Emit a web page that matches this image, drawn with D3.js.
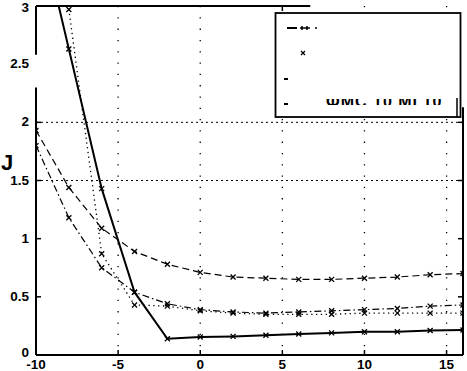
<!DOCTYPE html>
<html>
<head>
    <meta charset="utf-8">
    <title>J curves</title>
    <script src="https://d3js.org/d3.v7.min.js"></script>
    <style>
        html, body {
            margin: 0;
            background: #fff;
            overflow: hidden;
        }
        text {
            font-family: "Liberation Sans", Arial, sans-serif;
        }
    </style>
</head>
<body>
    <svg id="svg"></svg>
    <script>
        const xs = [-10, -8, -6, -4, -2, 0, 2, 4, 6, 8, 10, 12, 14, 16];
        const dashedVals = [1.93, 1.44, 1.09, 0.89, 0.78, 0.71, 0.67, 0.66, 0.65, 0.65, 0.66, 0.67, 0.69, 0.70];
        const dashDotVals = [1.80, 1.18, 0.75, 0.54, 0.44, 0.39, 0.37, 0.36, 0.37, 0.38, 0.39, 0.40, 0.42, 0.43];
        const dottedVals = [5.1, 2.97, 0.87, 0.43, 0.42, 0.38, 0.36, 0.35, 0.35, 0.35, 0.36, 0.36, 0.36, 0.36];
        const solidVals = [3.83, 2.63, 1.43, 0.54, 0.14, 0.155, 0.16, 0.17, 0.18, 0.19, 0.20, 0.20, 0.21, 0.215];

        const xTicks = [-10, -5, 0, 5, 10, 15];
        const yTicks = [0, 0.5, 1, 1.5, 2, 2.5, 3];
        const yTickLabels = ["0", "0.5", "1", "1.5", "2", "2.5", "3"];
        const gridX = [-5, 0, 5, 10, 15];
        const gridY = [1.5, 2];
        const legendLabels = ["", "", "", "ФМС 10 МГ10"];

        const width = 467, height = 371;
        const margins = { top: 6, left: 36, right: 4, bottom: 16 };

        const svg = d3.select("#svg")
        .attr("width", width)
        .attr("height", height);

        const x = d3.scaleLinear().domain([-10, 16]).range([margins.left, width - margins.right]);
        const y = d3.scaleLinear().domain([0, 3]).range([height - margins.bottom, margins.top]);

        svg.append("clipPath").attr("id", "plot")
        .append("rect")
        .attr("x", x(-10)).attr("y", y(3))
        .attr("width", x(16) - x(-10)).attr("height", y(0) - y(3));

        // grid
        svg.append("g").selectAll("line")
        .data(gridX).enter().append("line")
        .attr("x1", d => x(d)).attr("x2", d => x(d))
        .attr("y1", y(3)).attr("y2", y(0))
        .attr("stroke", "#000").attr("stroke-width", 1.3)
        .attr("stroke-dasharray", "1.3,10");

        svg.append("g").selectAll("line")
        .data(gridY).enter().append("line")
        .attr("x1", x(-10)).attr("x2", x(16))
        .attr("y1", d => y(d)).attr("y2", d => y(d))
        .attr("stroke", "#000").attr("stroke-width", 1)
        .attr("stroke-dasharray", "2,3");

        const series = [
            { vals: dashedVals, dash: "7,4", w: 1.2 },
            { vals: dashDotVals, dash: "7,3,1.5,3", w: 1.2 },
            { vals: dottedVals, dash: "1.3,3.5", w: 1.3 },
            { vals: solidVals, dash: null, w: 2 }
        ];

        const line = d3.line().x((d, i) => x(xs[i])).y(d => y(d));
        const plot = svg.append("g").attr("clip-path", "url(#plot)");

        series.forEach(s => {
            plot.append("path")
            .attr("d", line(s.vals))
            .attr("fill", "none")
            .attr("stroke", "#000")
            .attr("stroke-width", s.w)
            .attr("stroke-dasharray", s.dash);

            plot.append("g").selectAll("path")
            .data(s.vals).enter().append("path")
            .attr("d", "M-2.5,-2.5L2.5,2.5M-2.5,2.5L2.5,-2.5")
            .attr("transform", (d, i) => `translate(${x(xs[i])},${y(d)})`)
            .attr("stroke", "#000")
            .attr("stroke-width", 1.3);
        });

        // frame (scanned: parts missing)
        const frame = svg.append("g").attr("stroke", "#000").attr("stroke-width", 2);
        frame.append("line").attr("x1", x(-10)).attr("x2", x(-10)).attr("y1", y(3)).attr("y2", y(2.58));
        frame.append("line").attr("x1", x(-10)).attr("x2", x(-10)).attr("y1", y(2.3)).attr("y2", y(0));
        frame.append("line").attr("x1", x(-10)).attr("x2", x(16)).attr("y1", y(0)).attr("y2", y(0));
        frame.append("line").attr("x1", x(-10)).attr("x2", x(6.7)).attr("y1", y(3)).attr("y2", y(3));
        frame.append("line").attr("x1", x(16)).attr("x2", x(16)).attr("y1", y(2.13)).attr("y2", y(0));

        // ticks
        const tl = 5;
        const ticks = svg.append("g").attr("stroke", "#000").attr("stroke-width", 1.5);
        xTicks.forEach(t => {
            ticks.append("line").attr("x1", x(t)).attr("x2", x(t)).attr("y1", y(0)).attr("y2", y(0) - tl);
            if (t === 5) ticks.append("line").attr("x1", x(t)).attr("x2", x(t)).attr("y1", y(3)).attr("y2", y(3) + tl);
        });
        yTicks.forEach(t => {
            if (t !== 2.5) ticks.append("line").attr("x1", x(-10)).attr("x2", x(-10) + tl).attr("y1", y(t)).attr("y2", y(t));
            if (t <= 2) ticks.append("line").attr("x1", x(16)).attr("x2", x(16) - tl).attr("y1", y(t)).attr("y2", y(t));
        });

        // tick labels
        svg.append("g").selectAll("text")
        .data(xTicks).enter().append("text")
        .attr("x", d => x(d)).attr("y", height - 2.5)
        .attr("text-anchor", "middle")
        .attr("font-size", 13.5).attr("font-weight", "bold")
        .text(d => d);

        svg.append("g").selectAll("text")
        .data(yTicks).enter().append("text")
        .attr("x", x(-10) - 7).attr("y", d => d === 0 ? y(d) + 2 : Math.max(y(d) + 4, 12))
        .attr("text-anchor", "end")
        .attr("font-size", 13.5).attr("font-weight", "bold")
        .text((d, i) => yTickLabels[i]);

        svg.append("text")
        .attr("x", 1).attr("y", 170)
        .attr("font-size", 22).attr("font-weight", "bold")
        .text("J");

        // legend
        const lg = svg.append("g");
        lg.append("rect")
        .attr("x", 275.5).attr("y", 13).attr("width", 185).attr("height", 104)
        .attr("fill", "#fff").attr("stroke", "#000").attr("stroke-width", 1.8);
        lg.append("line").attr("x1", 457).attr("x2", 457).attr("y1", 98).attr("y2", 117)
        .attr("stroke", "#000").attr("stroke-width", 1.5);

        const rowY = [28, 53, 79, 104];
        lg.append("line").attr("x1", 287).attr("x2", 297).attr("y1", rowY[0]).attr("y2", rowY[0])
        .attr("stroke", "#000").attr("stroke-width", 2);
        lg.append("path").attr("d", `M300,${rowY[0]}H310M302,${rowY[0] - 2}V${rowY[0] + 2}M307,${rowY[0] - 2}V${rowY[0] + 2}M315,${rowY[0]}H317`)
        .attr("stroke", "#000").attr("stroke-width", 1.5);
        lg.append("path").attr("d", "M-2,-2L2,2M-2,2L2,-2")
        .attr("transform", `translate(303,${rowY[1]})`)
        .attr("stroke", "#000").attr("stroke-width", 1.2);
        [2, 3].forEach(i => {
            lg.append("line").attr("x1", 284).attr("x2", 288).attr("y1", rowY[i]).attr("y2", rowY[i])
            .attr("stroke", "#000").attr("stroke-width", 2);
        });

        lg.append("clipPath").attr("id", "lgclip")
        .append("rect").attr("x", 320).attr("y", 99).attr("width", 140).attr("height", 6);
        lg.append("text")
        .attr("clip-path", "url(#lgclip)")
        .attr("x", 326).attr("y", 107)
        .attr("font-size", 16).attr("font-weight", "bold")
        .attr("letter-spacing", 1)
        .text(legendLabels[3]);
    </script>
</body>
</html>
